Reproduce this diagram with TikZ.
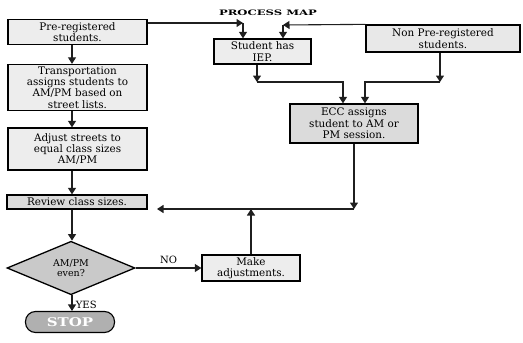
\documentclass[tikz,border=0pt]{standalone}
\usepackage{fontspec}
\setmainfont{DejaVu Serif}
\usetikzlibrary{arrows.meta}
\usetikzlibrary{shapes.geometric}
\definecolor{mline}{rgb}{0.12, 0.12, 0.12}

\begin{document}
\begin{tikzpicture}[x=1pt, y=-1pt,
    stepbox/.style={draw=black, line width=1.3pt, fill=gray!14, align=center,
      inner sep=0pt, font=\fontsize{10.4}{11.3}\selectfont},
    darkbox/.style={stepbox, fill=gray!28},
    arr/.style={draw=mline, line width=1.1pt, -{Triangle[width=8pt,length=6.5pt]}}]
      \useasboundingbox (0,0) rectangle (523,343);

      \node (title) at (268, 13) {\scalebox{1.55}[1]{\bfseries\fontsize{7.5}{9}\selectfont PROCESS MAP}};

      \node [stepbox, minimum width=139pt, minimum height=25pt] (pre) at (77.5, 32) {Pre-registered\\students.};
      \node [stepbox, minimum width=139pt, minimum height=46pt] (trans) at (77.5, 87.5) {Transportation\\assigns students to\\AM/PM based on\\street lists.};
      \node [stepbox, minimum width=139pt, minimum height=42pt] (adjust) at (77.5, 149) {Adjust streets to\\equal class sizes\\AM/PM};
      \node [darkbox, minimum width=140pt, minimum height=14pt] (review) at (77, 202) {Review class sizes.};
      \node [draw=black, line width=1.3pt, fill=gray!42, shape=diamond, inner sep=0pt,
        minimum width=128pt, minimum height=51pt, align=center,
        font=\fontsize{9.5}{10.5}\selectfont] (even) at (71, 268) {AM/PM\\even?};
      \node [draw=black, line width=1.1pt, fill=gray!62, rounded corners=10pt,
        minimum width=89pt, minimum height=21pt, text=white,
        font=\bfseries\fontsize{12}{13}\selectfont] (stop) at (70, 322) {\scalebox{1.25}[1]{STOP}};

      \node [stepbox, minimum width=97pt, minimum height=25pt] (iep) at (262.5, 51.5) {Student has\\IEP.};
      \node [stepbox, fill=gray!18, minimum width=154pt, minimum height=27pt] (nonpre) at (443, 38.5) {Non Pre-registered\\students.};
      \node [darkbox, minimum width=128pt, minimum height=39pt] (ecc) at (354, 123.5) {ECC assigns\\student to AM or\\PM session.};
      \node [stepbox, minimum width=98pt, minimum height=26pt] (make) at (251, 268) {Make\\adjustments.};

      \coordinate (spine) at (72, 0);
      \coordinate (c1) at (243, 23);
      \coordinate (c2) at (283, 25);
      \coordinate (c3) at (257, 82);
      \coordinate (c4) at (440, 82);
      \coordinate (join) at (354, 209);
      \coordinate (back) at (157, 209);

      \draw [arr] (pre.south -| spine) -- (trans.north -| spine);
      \draw [arr] (trans.south -| spine) -- (adjust.north -| spine);
      \draw [arr] (adjust.south -| spine) -- (review.north -| spine);
      \draw [arr] (review.south -| spine) -- (even.north -| spine);
      \draw [arr] (even.south -| spine) -- node [right, pos=0.6, font=\fontsize{10}{11}\selectfont] {YES} (stop.north -| spine);
      \draw [arr] (even) -- node [above, font=\fontsize{10}{11}\selectfont] {NO} (make);

      \draw [arr] (pre.east |- c1) -- (c1);
      \draw [arr] (c1) -- (c1 |- iep.north);
      \draw [arr] (nonpre.north west) -- (c2);
      \draw [arr] (c2) -- (c2 |- iep.north);

      \draw [arr] (c3 |- iep.south) -- (c3);
      \draw [arr] (c3) -| ([xshift=-11pt]ecc.north);
      \draw [arr] (c4 |- nonpre.south) -- (c4);
      \draw [arr] (c4) -| ([xshift=11pt]ecc.north);

      \draw [arr] (ecc) -- (join);
      \draw [arr] (join) -- (back);
      \draw [arr] (make.north) -- (make.north |- join);
\end{tikzpicture}
\end{document}
